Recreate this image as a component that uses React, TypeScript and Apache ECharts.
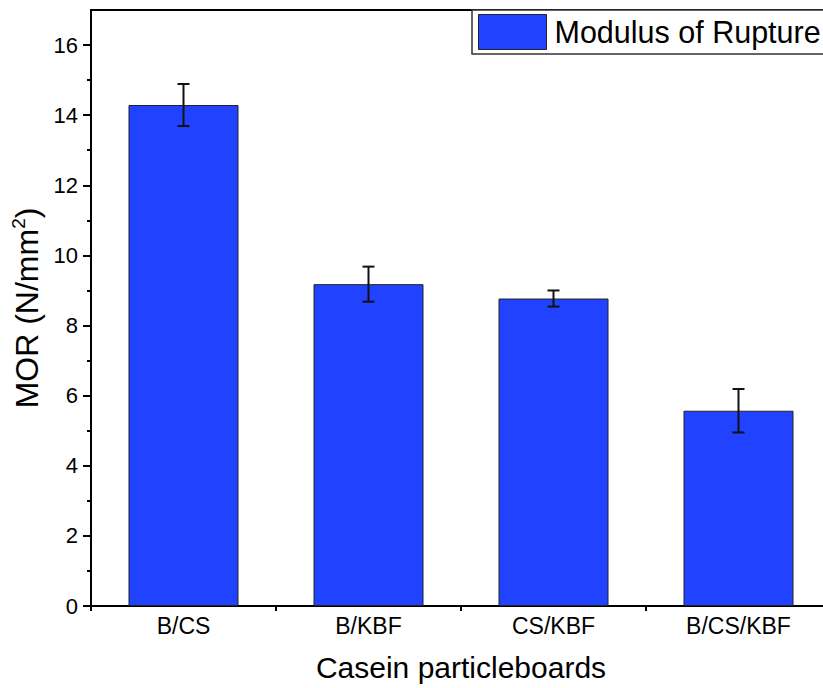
import React, { useEffect, useRef } from "react";
import * as echarts from "echarts";

// Casein particleboard bending strength (MOR), mean ± standard deviation
const categories = ["B/CS", "B/KBF", "CS/KBF", "B/CS/KBF"];
const morMean = [14.29, 9.18, 8.77, 5.57];
const morErr = [0.6, 0.5, 0.23, 0.62];
const seriesName = "Modulus of Rupture";
const majorTicks = [0, 2, 4, 6, 8, 10, 12, 14, 16];
const minorTicks = [1, 3, 5, 7, 9, 11, 13, 15];

const FONT = 'Arial, "Liberation Sans", sans-serif';

export default function App() {
  const ref = useRef<HTMLDivElement>(null);

  useEffect(() => {
    if (!ref.current) return;
    const chart = echarts.init(ref.current, undefined, { renderer: "svg" });

    const errData = categories.map((_, i) => [
      i,
      morMean[i] - morErr[i],
      morMean[i] + morErr[i],
    ]);

    const option: any = {
      animation: false,
      backgroundColor: "#fff",
      textStyle: { fontFamily: FONT },
      grid: {
        left: 91,
        top: 10,
        width: 740,
        height: 596,
        show: true,
        borderColor: "#000",
        borderWidth: 2,
        backgroundColor: "transparent",
      },
      legend: {
        left: 472,
        top: 10,
        orient: "horizontal",
        data: [
          {
            name: seriesName,
            icon: "rect",
            itemStyle: { color: "#2143ff", borderColor: "#222", borderWidth: 1 },
          },
        ],
        itemWidth: 68,
        itemHeight: 35,
        padding: [4, 30, 4, 6],
        borderColor: "#333",
        borderWidth: 1.5,
        backgroundColor: "#fff",
        textStyle: { fontSize: 30.5, color: "#000", fontFamily: FONT, padding: [0, 0, 0, 3] },
      },
      xAxis: {
        type: "category",
        data: categories,
        name: "Casein particleboards",
        nameLocation: "middle",
        nameGap: 46,
        nameTextStyle: { fontSize: 30, color: "#000", fontFamily: FONT },
        axisLine: { lineStyle: { color: "#000", width: 2 } },
        axisTick: { show: true, length: 5, inside: false, lineStyle: { color: "#000", width: 2 } },
        axisLabel: { fontSize: 23, color: "#000", margin: 8, fontFamily: FONT },
        splitLine: { show: false },
      },
      yAxis: [
        {
          type: "value",
          min: 0,
          max: 17,
          interval: 2,
          name: "{a|MOR (N/mm}{b|2}{a|)}",
          nameLocation: "middle",
          nameGap: 39,
          nameRotate: 90,
          nameTextStyle: {
            color: "#000",
            rich: {
              a: { fontSize: 32, fontFamily: FONT, color: "#000", lineHeight: 36 },
              b: { fontSize: 19, fontFamily: FONT, color: "#000", verticalAlign: "top", lineHeight: 36 },
            },
          },
          axisLine: { show: true, lineStyle: { color: "#000", width: 2 } },
          axisTick: {
            show: true,
            length: 8,
            inside: false,
            customValues: majorTicks,
            lineStyle: { color: "#000", width: 2 },
          },
          axisLabel: {
            fontSize: 22,
            color: "#000",
            margin: 13,
            fontFamily: FONT,
            customValues: majorTicks,
          },
          splitLine: { show: false },
        },
        {
          type: "value",
          min: 0,
          max: 17,
          interval: 1,
          position: "left",
          axisLine: { show: false },
          axisTick: {
            show: true,
            length: 4,
            inside: false,
            customValues: minorTicks,
            lineStyle: { color: "#000", width: 2 },
          },
          axisLabel: { show: false },
          splitLine: { show: false },
        },
      ],
      series: [
        {
          name: seriesName,
          type: "bar",
          data: morMean,
          barWidth: 110,
          itemStyle: { color: "#2143ff", borderColor: "#222", borderWidth: 1 },
        },
        {
          name: "error",
          type: "custom",
          data: errData,
          encode: { x: 0, y: [1, 2] },
          z: 10,
          renderItem: (_params: any, api: any) => {
            const idx = api.value(0);
            const lo = api.coord([idx, api.value(1)]);
            const hi = api.coord([idx, api.value(2)]);
            const half = 6;
            const style = { stroke: "#111", lineWidth: 2 };
            return {
              type: "group",
              children: [
                { type: "line", shape: { x1: lo[0], y1: lo[1], x2: hi[0], y2: hi[1] }, style },
                { type: "line", shape: { x1: hi[0] - half, y1: hi[1], x2: hi[0] + half, y2: hi[1] }, style },
                { type: "line", shape: { x1: lo[0] - half, y1: lo[1], x2: lo[0] + half, y2: lo[1] }, style },
              ],
            };
          },
        },
      ],
    };

    chart.setOption(option);
    return () => chart.dispose();
  }, []);

  // The plot frame runs past the right edge of the view, so the chart canvas
  // is wider than the visible window and the overflow is clipped.
  return (
    <div
      style={{
        position: "absolute",
        left: 0,
        top: 0,
        width: 823,
        height: 688,
        overflow: "hidden",
      }}
    >
      <div ref={ref} style={{ width: 850, height: 688 }} />
    </div>
  );
}
